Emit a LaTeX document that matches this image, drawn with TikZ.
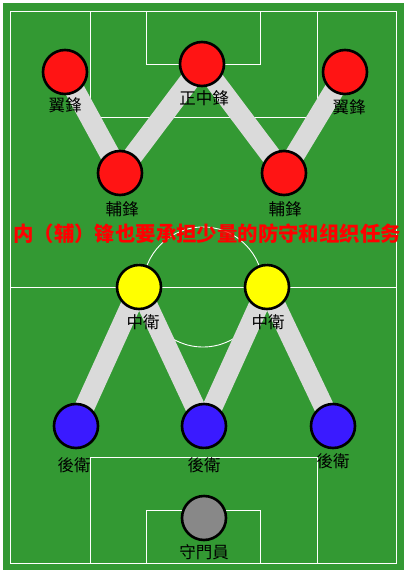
\documentclass[tikz,border=0pt]{standalone}
\usepackage{fontspec}
\newfontfamily\cjktc{Noto Sans CJK TC}
\newfontfamily\cjksc{Noto Sans CJK SC}
\definecolor{pitch}{RGB}{51,153,51}
\definecolor{band}{RGB}{218,218,218}
\definecolor{fwd}{RGB}{255,20,20}
\definecolor{mid}{RGB}{255,255,0}
\definecolor{back}{RGB}{58,26,255}
\definecolor{keeper}{RGB}{136,136,136}
\tikzset{
  player/.style={circle,draw=black,line width=2.6pt,minimum size=44pt,inner sep=0pt},
  role/.style={font=\cjktc\fontsize{16.5}{16.5}\selectfont,text=black},
  line/.style={draw=white,line width=0.9pt},
  link/.style={draw=band,line width=20pt},
}
\begin{document}
\begin{tikzpicture}[x=1pt,y=-1pt]
    \useasboundingbox (0,0) rectangle (409,577);
    % pitch
    \fill[pitch] (3,3) rectangle (404,570);
    \path[line] (10,11) rectangle (396,563);
    \path[line] (10,287) -- (396,287);
    \path[line] (203,287) circle (60);
    \path[line] (90,11) rectangle (317,117);
    \path[line] (146,11) rectangle (260,64);
    \path[line] (90,563) rectangle (317,457);
    \path[line] (146,563) rectangle (260,510);
    % positions
    \coordinate (lw) at (65,72);
    \coordinate (cf) at (202,64);
    \coordinate (rw) at (345,72);
    \coordinate (li) at (120,173);
    \coordinate (ri) at (284,173);
    \coordinate (lh) at (139,287);
    \coordinate (rh) at (267,287);
    \coordinate (lb) at (76,426);
    \coordinate (cb) at (204,426);
    \coordinate (rb) at (333,426);
    \coordinate (gk) at (204,518);
    \path[link] (lw)--(li)--(cf)--(ri)--(rw);
    \path[link] (lb)--(lh)--(cb)--(rh)--(rb);
    \foreach \p in {lw,cf,rw,li,ri} {
      \node[player,fill=fwd] (\p-n) at (\p) {};
    };
    \foreach \p in {lh,rh} {
      \node[player,fill=mid] (\p-n) at (\p) {};
    };
    \foreach \p in {lb,cb,rb} {
      \node[player,fill=back] (\p-n) at (\p) {};
    };
    \node[player,fill=keeper] (gk-n) at (gk) {};
    % roles
    \node[role] at (65,105) {翼鋒};
    \node[role] at (204,98) {正中鋒};
    \node[role] at (349,107) {翼鋒};
    \node[role] at (122,209) {輔鋒};
    \node[role] at (285,209) {輔鋒};
    \node[role] at (143,322) {中衛};
    \node[role] at (268,322) {中衛};
    \node[role] at (74,465) {後衛};
    \node[role] at (204,465) {後衛};
    \node[role] at (333,461) {後衛};
    \node[role] at (204,552) {守門員};
    \node[font=\cjksc\bfseries\fontsize{20.4}{20.4}\selectfont,text=red,inner sep=0pt] (note) at (207,234) {内（辅）锋也要承担少量的防守和组织任务};
  \end{tikzpicture}
\end{document}
